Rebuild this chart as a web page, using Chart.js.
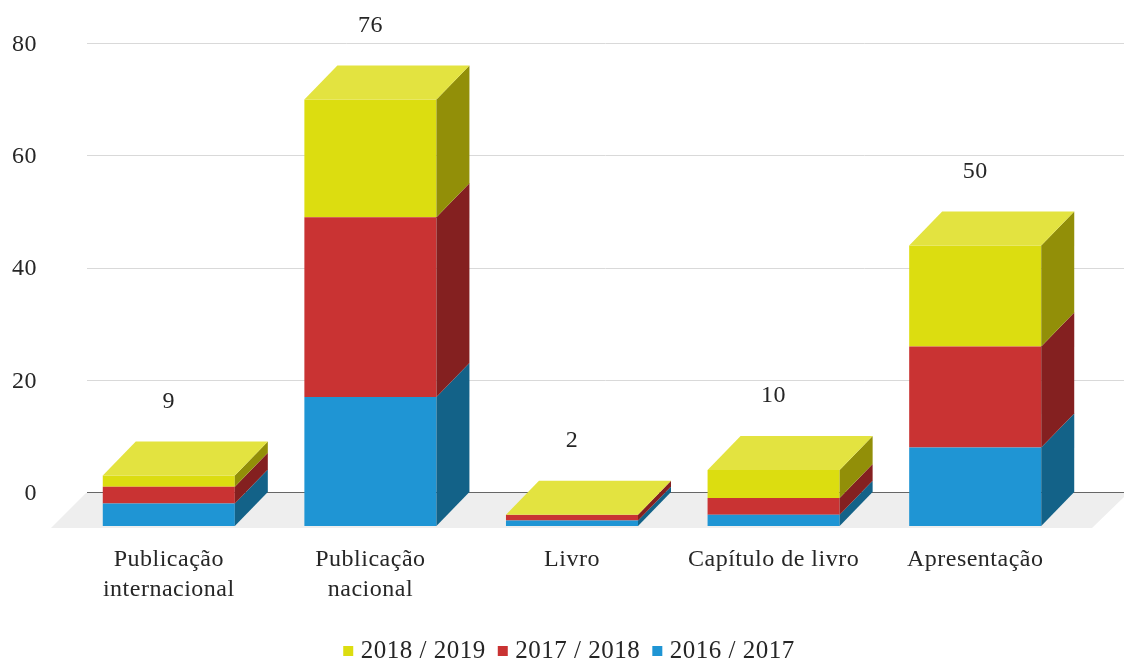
<!DOCTYPE html>
<html>
<head>
<meta charset="utf-8">
<title>Produção</title>
<script src="https://cdn.jsdelivr.net/npm/chart.js@4"></script>
<style>
  html, body { margin: 0; padding: 0; background: #fff; }
  #wrap { width: 1124px; height: 662px; }
</style>
</head>
<body>
<div id="wrap"><canvas id="chart" width="1124" height="662"></canvas></div>
<script>
const categories = [["Publicação", "internacional"], ["Publicação", "nacional"], "Livro", "Capítulo de livro", "Apresentação"];
const values2016 = [4, 23, 1, 2, 14];
const values2017 = [3, 32, 1, 3, 18];
const values2018 = [2, 21, 0, 5, 18];
const totals = [9, 76, 2, 10, 50];
const yTicks = [0, 20, 40, 60, 80];

const serifFont = "'Liberation Serif', serif";
const textColor = '#262626';

// depth of the fake 3D, front plane sits left and below the axis plane
const depthX = 33;
const depthY = 34;

const sideColors = ['#136288', '#842020', '#928f08'];
const topColor = '#e3e340';

const fake3d = {
  id: 'fake3d',
  beforeLayout(chart) {
    // reference font runs wider than Liberation Serif
    chart.ctx.letterSpacing = '0.5px';
  },
  afterLayout(chart) {
    // y labels sit left of the layout padding, keep them out of the scale clip
    chart.scales.y.left = 0;
  },
  beforeDatasetsDraw(chart) {
    const { ctx, scales } = chart;
    const zero = scales.y.getPixelForValue(0);

    // floor
    ctx.save();
    ctx.fillStyle = '#eeeeee';
    ctx.beginPath();
    ctx.moveTo(51, zero + 36);
    ctx.lineTo(86, zero + 1);
    ctx.lineTo(1128, zero + 1);
    ctx.lineTo(1092, zero + 36);
    ctx.closePath();
    ctx.fill();

    // gridlines run past the bar area on both sides
    yTicks.forEach(t => {
      const y = Math.round(scales.y.getPixelForValue(t)) + 0.5;
      ctx.strokeStyle = t === 0 ? '#666666' : '#d9d9d9';
      ctx.lineWidth = 1;
      ctx.beginPath();
      ctx.moveTo(87, y);
      ctx.lineTo(1124, y);
      ctx.stroke();
    });
    ctx.restore();

    // bars are drawn on the front plane
    ctx.save();
    ctx.translate(-depthX, depthY);
  },
  afterDatasetsDraw(chart) {
    const { ctx, scales } = chart;
    const last = chart.data.datasets.length - 1;

    chart.data.datasets.forEach((ds, i) => {
      chart.getDatasetMeta(i).data.forEach(bar => {
        const right = bar.x + bar.width / 2;
        const left = bar.x - bar.width / 2;
        ctx.fillStyle = sideColors[i];
        ctx.beginPath();
        ctx.moveTo(right, bar.y);
        ctx.lineTo(right + depthX, bar.y - depthY);
        ctx.lineTo(right + depthX, bar.base - depthY);
        ctx.lineTo(right, bar.base);
        ctx.closePath();
        ctx.fill();

        if (i === last) {
          ctx.fillStyle = topColor;
          ctx.beginPath();
          ctx.moveTo(left, bar.y);
          ctx.lineTo(left + depthX, bar.y - depthY);
          ctx.lineTo(right + depthX, bar.y - depthY);
          ctx.lineTo(right, bar.y);
          ctx.closePath();
          ctx.fill();
        }
      });
    });
    ctx.restore();

    // totals above each stack
    ctx.save();
    ctx.font = '24px ' + serifFont;
    ctx.fillStyle = textColor;
    ctx.textAlign = 'center';
    ctx.textBaseline = 'middle';
    totals.forEach((t, i) => {
      const x = scales.x.getPixelForValue(i) - depthX;
      ctx.fillText(String(t), x, scales.y.getPixelForValue(t) - 40);
    });
    ctx.restore();
  }
};

new Chart(document.getElementById('chart'), {
  type: 'bar',
  data: {
    labels: categories,
    datasets: [
      { label: '2016 / 2017', data: values2016, backgroundColor: '#1f95d4' },
      { label: '2017 / 2018', data: values2017, backgroundColor: '#c93333' },
      { label: '2018 / 2019', data: values2018, backgroundColor: '#dcdd10' }
    ]
  },
  plugins: [fake3d],
  options: {
    responsive: false,
    animation: false,
    layout: { padding: { top: 43, right: 15, left: 34, bottom: -11.5 } },
    datasets: { bar: { categoryPercentage: 1, barPercentage: 0.655 } },
    scales: {
      x: {
        stacked: true,
        grid: { display: false },
        border: { display: false },
        afterFit(scale) { scale.height = 129.5; },
        ticks: {
          maxRotation: 0,
          autoSkip: false,
          padding: 45,
          labelOffset: -depthX,
          color: textColor,
          font: { family: serifFont, size: 24, lineHeight: 1.25 }
        }
      },
      y: {
        stacked: true,
        min: 0,
        max: 80,
        grid: { display: false },
        border: { display: false },
        afterFit(scale) {
          scale.width = 67;
          // tick padding must not push the plot area down
          scale.paddingTop = 0;
          scale.paddingBottom = 0;
        },
        ticks: {
          stepSize: 20,
          padding: 56,
          labelOffset: 1.5,
          color: textColor,
          font: { family: serifFont, size: 24 }
        }
      }
    },
    plugins: {
      tooltip: { enabled: false },
      legend: {
        position: 'bottom',
        reverse: true,
        labels: {
          usePointStyle: true,
          pointStyle: 'rect',
          boxWidth: 0.1,
          boxHeight: 10,
          padding: 17,
          color: textColor,
          font: { family: serifFont, size: 25 }
        }
      }
    }
  }
});
</script>
</body>
</html>
